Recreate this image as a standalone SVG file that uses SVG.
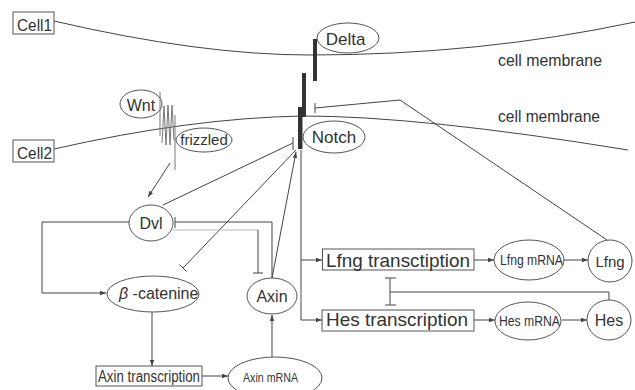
<svg xmlns="http://www.w3.org/2000/svg" width="635" height="390" viewBox="0 0 635 390">
<style>
.ln{fill:none;stroke:#444;stroke-width:1}
.lt{fill:none;stroke:#b8b8b8;stroke-width:1}
.mem{fill:none;stroke:#444;stroke-width:1}
.nd{fill:#fff;stroke:#555;stroke-width:1}
.bx{fill:#fff;stroke:#555;stroke-width:1}
.bar{fill:#333}
text{font-family:"Liberation Sans",Arial,sans-serif;fill:#333}
</style>
<defs>
<marker id="arr" viewBox="0 0 8 6" refX="8" refY="3" markerWidth="6" markerHeight="5" orient="auto" markerUnits="userSpaceOnUse"><path d="M0,0L8,3L0,6z" fill="#444"/></marker>
</defs>
<rect width="635" height="390" fill="#fff"/>

<g id="membranes">
<path class="mem" d="M54,21 Q200,55 310,55 Q480,55 635,22"/>
<path class="mem" d="M54,149 Q190,118 303,116 Q420,116 628,150"/>
<text x="498" y="66" font-size="17" textLength="104" lengthAdjust="spacingAndGlyphs">cell membrane</text>
<text x="498" y="122" font-size="17" textLength="102" lengthAdjust="spacingAndGlyphs">cell membrane</text>
</g>

<g id="connectors">
<path class="ln" d="M170,163 L148,197" marker-end="url(#arr)"/>
<path class="ln" d="M163,205 L293,143 M293,137 L293,150"/>
<path class="ln" d="M296,150 L183,268 M179.4,264.6 L186.6,271.5"/>
<path class="ln" d="M272,278 L296,152" marker-end="url(#arr)"/>
<path class="ln" d="M272,278 L272,222 L175,222 M175,217 L175,228"/>
<path class="lt" d="M173,230 L258,230"/>
<path class="ln" d="M258,230 L258,273 M253,273 L263,273"/>
<path class="ln" d="M129,222 L42,222 L42,293 L106,293" marker-end="url(#arr)"/>
<path class="ln" d="M152,312 L152,366" marker-end="url(#arr)"/>
<path class="ln" d="M202,376 L228,376" marker-end="url(#arr)"/>
<path class="ln" d="M272,357 L272,315" marker-end="url(#arr)"/>
<path class="ln" d="M301,150 L301,320 L322,320" marker-end="url(#arr)"/>
<path class="ln" d="M301,260 L322,260" marker-end="url(#arr)"/>
<path class="ln" d="M474,260 L494,260" marker-end="url(#arr)"/>
<path class="ln" d="M564,260 L588,260" marker-end="url(#arr)"/>
<path class="ln" d="M474,320 L495,320" marker-end="url(#arr)"/>
<path class="ln" d="M562,320 L587,320" marker-end="url(#arr)"/>
<path class="ln" d="M609,300 L609,292 L390,292 M390,278 L390,305 M385,278 L396,278 M385,305 L396,305"/>
<path class="ln" d="M607,240 L400,100 L315,108 M315,103 L315,113"/>
</g>

<g id="cell1"><rect class="bx" x="13" y="12" width="41" height="22"/><text x="17" y="31" font-size="17" textLength="35" lengthAdjust="spacingAndGlyphs">Cell1</text></g>
<g id="cell2"><rect class="bx" x="13" y="140" width="41" height="22"/><text x="17" y="159" font-size="17" textLength="35" lengthAdjust="spacingAndGlyphs">Cell2</text></g>

<g id="delta">
<ellipse class="nd" cx="348" cy="38" rx="31" ry="15"/>
<rect class="bar" x="313" y="39" width="4" height="42"/>
<text x="345.5" y="45" font-size="17" text-anchor="middle">Delta</text>
</g>

<g id="notch">
<rect class="bar" x="302" y="73" width="4" height="44"/>
<rect class="bar" x="298" y="107" width="4.5" height="42"/>
<ellipse class="nd" cx="334" cy="137" rx="31" ry="16"/>
<text x="334" y="143" font-size="17" text-anchor="middle">Notch</text>
</g>

<g id="wnt">
<ellipse class="nd" cx="141" cy="104" rx="21" ry="14"/>
<text x="141" y="111" font-size="16" text-anchor="middle">Wnt</text>
</g>

<g id="frizzled">
<path fill="none" stroke="#777" stroke-width="1" d="M160,92 L160,136 M162,143 L164,106 L166,145 L168,105 L170,145 L172,105 L174,140 M175,115 L175,170"/>
<ellipse class="nd" cx="204" cy="140" rx="28" ry="12"/>
<text x="204" y="145" font-size="15" text-anchor="middle">frizzled</text>
</g>

<g id="dvl">
<ellipse class="nd" cx="151" cy="223" rx="22" ry="18"/>
<text x="151" y="229" font-size="16" text-anchor="middle">Dvl</text>
</g>

<g id="bcatenin">
<ellipse class="nd" cx="153" cy="294" rx="46" ry="18"/>
<text x="119" y="299" font-size="16"><tspan font-style="italic">β</tspan> -catenine</text>
</g>

<g id="axin">
<ellipse class="nd" cx="272" cy="296" rx="25" ry="18"/>
<text x="272" y="302" font-size="16" text-anchor="middle">Axin</text>
</g>

<g id="axintx">
<rect class="bx" x="96" y="366" width="106" height="20"/>
<text x="98" y="382" font-size="16" textLength="102" lengthAdjust="spacingAndGlyphs">Axin transcription</text>
</g>

<g id="axinmrna">
<ellipse class="nd" cx="275" cy="378" rx="47" ry="21"/>
<text x="243" y="382" font-size="13.5" textLength="55" lengthAdjust="spacingAndGlyphs">Axin mRNA</text>
</g>

<g id="lfngtx">
<rect class="bx" x="322.5" y="249" width="151.5" height="21"/>
<text x="326" y="267" font-size="19" textLength="144" lengthAdjust="spacingAndGlyphs">Lfng transctiption</text>
</g>

<g id="hestx">
<rect class="bx" x="322" y="310" width="152" height="21"/>
<text x="326" y="326" font-size="19" textLength="142" lengthAdjust="spacingAndGlyphs">Hes transcription</text>
</g>

<g id="lfngmrna">
<ellipse class="nd" cx="529" cy="260" rx="35" ry="20"/>
<text x="500" y="265" font-size="14" textLength="63" lengthAdjust="spacingAndGlyphs">Lfng mRNA</text>
</g>

<g id="hesmrna">
<ellipse class="nd" cx="528" cy="321" rx="33" ry="19"/>
<text x="499" y="326" font-size="14" textLength="61" lengthAdjust="spacingAndGlyphs">Hes mRNA</text>
</g>

<g id="lfng">
<ellipse class="nd" cx="610" cy="261" rx="22" ry="21"/>
<text x="610" y="267" font-size="15" text-anchor="middle">Lfng</text>
</g>

<g id="hes">
<ellipse class="nd" cx="609" cy="320" rx="22" ry="20"/>
<text x="609" y="326" font-size="16" text-anchor="middle">Hes</text>
</g>
</svg>
